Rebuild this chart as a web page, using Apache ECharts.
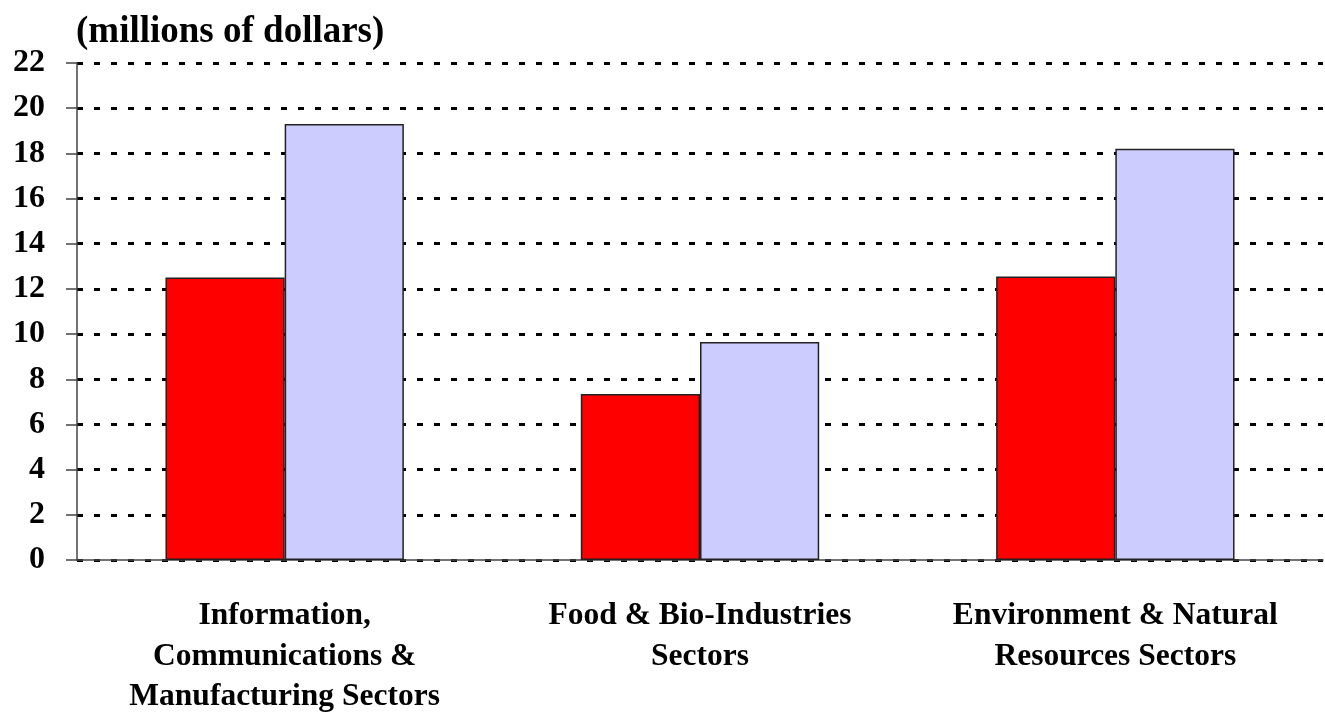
<!DOCTYPE html>
<html>
<head>
<meta charset="utf-8">
<script src="https://cdn.jsdelivr.net/npm/echarts@6/dist/echarts.min.js"></script>
<style>
  html, body { margin: 0; padding: 0; background: #fff; }
  #chart { width: 1325px; height: 724px; }
</style>
</head>
<body>
<div id="chart"></div>
<script>
// 分类
const categories = [
  'Information,\nCommunications &\nManufacturing Sectors',
  'Food & Bio-Industries\nSectors',
  'Environment & Natural\nResources Sectors'
]
// 两组数值（百万美元）
const redValues = [12.5, 7.35, 12.55]
const blueValues = [19.3, 9.65, 18.2]

const FONT = '"Liberation Serif", "Times New Roman", serif'

let chart = echarts.init(document.getElementById('chart'))

let option = {
  animation: false,
  backgroundColor: '#fff',
  title: {
    text: '(millions of dollars)',
    left: 71,
    top: 9,
    textStyle: { fontFamily: FONT, fontWeight: 'bold', fontSize: 37, color: '#000' }
  },
  grid: { left: 77, right: 2, top: 63, bottom: 164, containLabel: false },
  xAxis: [
    {
      type: 'category',
      data: categories,
      axisLine: { lineStyle: { color: '#444', width: 1.5 } },
      axisTick: { inside: true, length: 8, lineStyle: { color: '#444', width: 1.5 } },
      axisLabel: {
        interval: 0,
        hideOverlap: false,
        fontFamily: FONT, fontWeight: 'bold', fontSize: 31.5, color: '#000',
        lineHeight: 40.5, margin: 36
      }
    },
    {
      // 柱间下方的短刻度
      type: 'category',
      position: 'bottom',
      data: categories,
      axisLine: { show: false },
      axisTick: { alignWithLabel: true, length: 8, lineStyle: { color: '#444', width: 1.5 } },
      axisLabel: { show: false }
    }
  ],
  yAxis: {
    type: 'value',
    min: 0,
    max: 22,
    interval: 2,
    axisLine: { show: true, lineStyle: { color: '#444', width: 1.5 } },
    axisTick: { show: true, length: 11, lineStyle: { color: '#444', width: 1.5 } },
    axisLabel: {
      fontFamily: FONT, fontWeight: 'bold', fontSize: 32, color: '#000', margin: 32
    },
    splitLine: {
      show: true,
      lineStyle: { color: '#000', width: 3, type: [6, 11] }
    }
  },
  series: [
    {
      name: 'Red',
      type: 'bar',
      data: redValues,
      barWidth: '28.7%',
      barGap: '0%',
      itemStyle: { color: '#ff0000', borderColor: '#222', borderWidth: 1.5 }
    },
    {
      name: 'Blue',
      type: 'bar',
      data: blueValues,
      barWidth: '28.7%',
      itemStyle: { color: '#ccccff', borderColor: '#222', borderWidth: 1.5 }
    }
  ]
}

chart.setOption(option)
</script>
</body>
</html>
